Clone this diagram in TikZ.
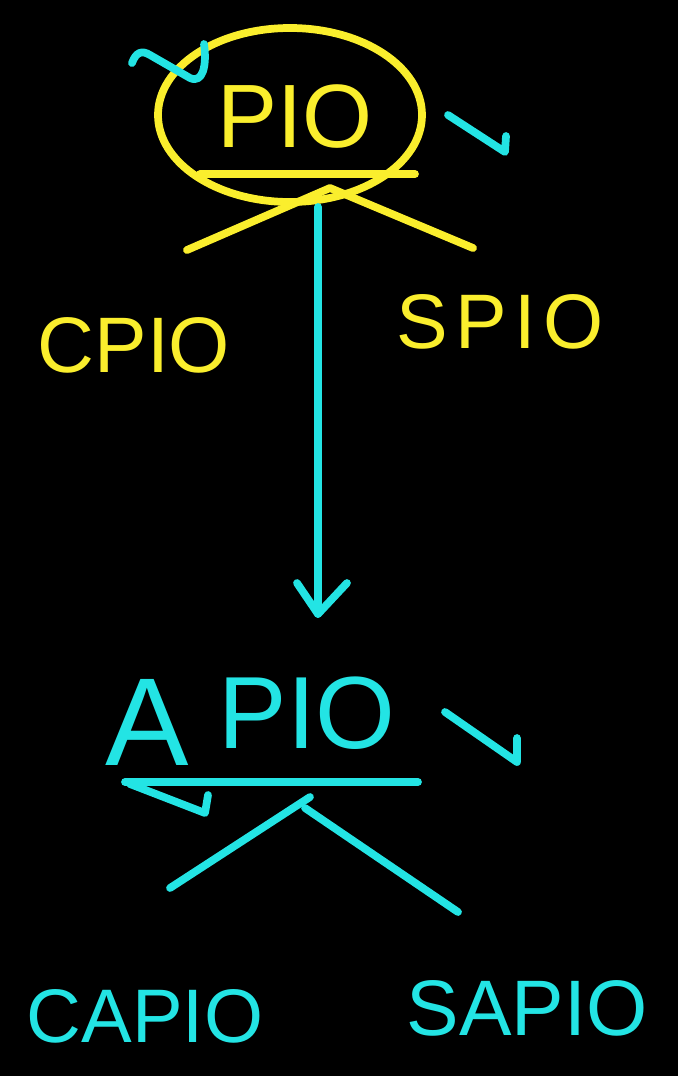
\documentclass[tikz,border=0pt]{standalone}
\usepackage{fontspec}
\setmainfont{Liberation Sans}
\definecolor{penyellow}{RGB}{250,238,45}
\definecolor{pencyan}{RGB}{35,228,228}
\tikzset{
  ystroke/.style={draw=penyellow,line width=11pt,line cap=round,line join=round},
  cstroke/.style={draw=pencyan,line width=11pt,line cap=round,line join=round},
  ytext/.style={text=penyellow,inner sep=0pt,anchor=center},
  ctext/.style={text=pencyan,inner sep=0pt,anchor=center},
}
\newcommand{\hand}[1]{\fontsize{#1}{#1}\selectfont}
\begin{document}
\begin{tikzpicture}[x=0.05cm,y=-0.05cm]
\fill[black] (0,0) rectangle (678,1076);
\useasboundingbox (0,0) rectangle (678,1076);
% top group
\node[ytext,font=\hand{128pt}] (pio) at (295,117) {PIO};
\draw[ystroke] (290,115) ellipse [x radius=132,y radius=87];
\coordinate (pul) at (200,174);
\coordinate (pur) at (415,174);
\draw[ystroke] (pul) -- (pur);
\coordinate (papex) at (330,188);
\coordinate (pvl) at (187,250);
\coordinate (pvr) at (473,248);
\draw[ystroke] (pvl) -- (papex) -- (pvr);
\node[ytext,font=\hand{112pt}] (cpio) at (134,345) {CPIO};
\node[ytext,font=\hand{110pt}\addfontfeature{LetterSpace=10}] (spio) at (500,322) {SPIO};
% ticks
\draw[cstroke] (132,63) .. controls (136,52) and (142,50) .. (150,55) -- (190,78) .. controls (203,84) and (207,65) .. (204,44);
\draw[cstroke] (448,115) -- (505,152) -- (506,136);
% arrow
\coordinate (astart) at (318,207);
\coordinate (atip) at (318,614);
\draw[cstroke] (astart) -- (atip);
\draw[cstroke] (297,583) -- (atip) -- (347,583);
% bottom group
\node[ctext,font=\hand{178pt}] (aa) at (147,722) {A};
\node[ctext,font=\hand{146pt}] (apio) at (307,713) {PIO};
\draw[cstroke] (445,712) -- (517,762) -- (517,738);
\coordinate (aul) at (125,782);
\coordinate (aur) at (418,782);
\draw[cstroke] (aul) -- (aur);
\draw[cstroke] (130,784) -- (205,813) -- (208,795);
\coordinate (aapex) at (310,797);
\coordinate (avl) at (170,888);
\coordinate (avr0) at (305,808);
\coordinate (avr) at (458,912);
\draw[cstroke] (avl) -- (aapex);
\draw[cstroke] (avr0) -- (avr);
\node[ctext,font=\hand{108pt}] (capio) at (145,1016) {CAPIO};
\node[ctext,font=\hand{112pt}] (sapio) at (527,1008) {SAPIO};
\end{tikzpicture}
\end{document}
